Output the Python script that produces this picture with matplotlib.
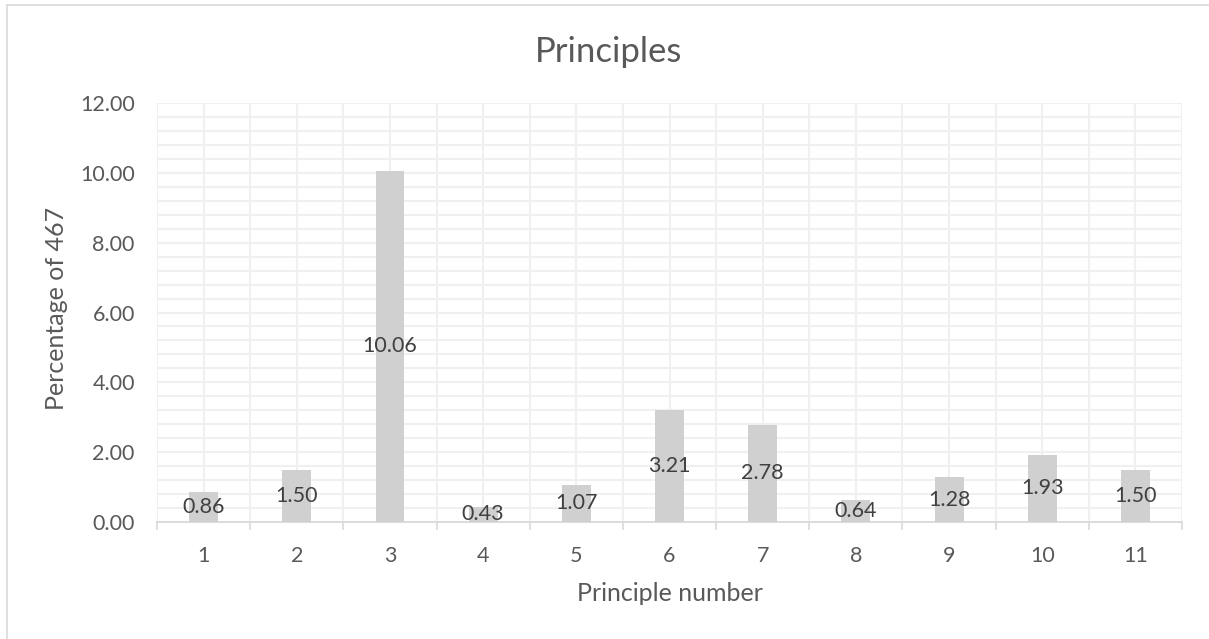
import matplotlib.pyplot as plt
from matplotlib.lines import Line2D
from matplotlib.ticker import MultipleLocator
import numpy as np

plt.rcParams['font.family'] = ['Lato', 'DejaVu Sans']

principles = ['1', '2', '3', '4', '5', '6', '7', '8', '9', '10', '11']
percentages = [0.86, 1.50, 10.06, 0.43, 1.07, 3.21, 2.78, 0.64, 1.28, 1.93, 1.50]

TXT = '#595959'
GRID = '#F0F0F0'
AXIS = '#D9D9D9'

fig = plt.figure(figsize=(12.09, 6.39), dpi=100)
ax = fig.add_axes([0.1299, 0.1831, 0.8478, 0.6557])

x = np.arange(1, len(principles) + 1)
bars = ax.bar(x, percentages, width=0.31, color='#D0D0D0', zorder=3)

for xi, v in zip(x, percentages):
    ax.text(xi, v / 2, '%.2f' % v, ha='center', va='center',
            fontsize=15.5, color='#404040', zorder=4)

ax.set_xlim(0.5, len(principles) + 0.5)
ax.set_ylim(0, 12)

# category labels at centres, tick marks on the category boundaries
ax.set_xticks(x)
ax.set_xticklabels(principles)
ax.set_xticks(np.arange(0.5, len(principles) + 1, 1.0), minor=True)
ax.tick_params(axis='x', which='major', length=0, pad=17, labelsize=15.5, labelcolor=TXT)
ax.tick_params(axis='x', which='minor', length=5.5, width=1.2, color=AXIS)

ax.yaxis.set_major_locator(MultipleLocator(2))
ax.yaxis.set_minor_locator(MultipleLocator(0.4))
ax.set_yticks(np.arange(0, 12.01, 2))
ax.set_yticklabels(['%.2f' % t for t in np.arange(0, 12.01, 2)])
ax.tick_params(axis='y', which='both', length=0, pad=16, labelsize=15.5, labelcolor=TXT)

ax.grid(True, which='both', axis='both', color=GRID, linewidth=1.5, zorder=0)
ax.set_axisbelow(True)

for s in ['left', 'right', 'top']:
    ax.spines[s].set_visible(False)
ax.spines['bottom'].set_color(AXIS)
ax.spines['bottom'].set_linewidth(1.3)

ax.set_ylabel('Percentage of 467', fontsize=18, color=TXT)
ax.yaxis.set_label_coords(-0.087, 0.51)
ax.set_xlabel('Principle number', fontsize=18, color=TXT, labelpad=12)
fig.text(0.503, 0.918, 'Principles', ha='center', va='center', fontsize=25, color=TXT)

# chart frame
fig.add_artist(Line2D([7 / 1209, 7 / 1209], [0, 1 - 5 / 639], transform=fig.transFigure,
                      color=AXIS, linewidth=1.2))
fig.add_artist(Line2D([7 / 1209, 1], [1 - 5 / 639, 1 - 5 / 639], transform=fig.transFigure,
                      color=AXIS, linewidth=1.2))

fig.savefig('out.png', dpi=100)
